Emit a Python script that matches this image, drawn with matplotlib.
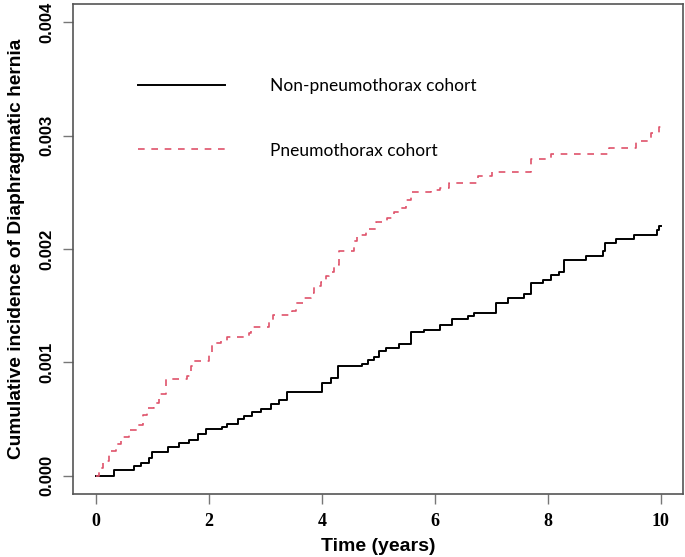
import numpy as np
import matplotlib.pyplot as plt

# step times (years) and cumulative incidence
non_t = [0, 0.32, 0.68, 0.80, 0.94, 1.00, 1.27, 1.47, 1.65, 1.80, 1.95, 2.24, 2.33,
         2.51, 2.62, 2.77, 2.92, 3.10, 3.24, 3.39, 4.01, 4.16, 4.28, 4.72, 4.81,
         4.93, 5.01, 5.13, 5.37, 5.58, 5.81, 6.10, 6.31, 6.58, 6.70, 7.08, 7.29,
         7.58, 7.70, 7.91, 8.05, 8.20, 8.29, 8.67, 8.97, 9.01, 9.20, 9.52, 9.93,
         9.97, 10.0]
non_v = [0, 0.00005, 0.000088, 0.000117, 0.00016, 0.00021, 0.000255, 0.00029,
         0.000314, 0.00037, 0.00041, 0.00043, 0.000455, 0.0005, 0.00053, 0.00056,
         0.00059, 0.00063, 0.00067, 0.00074, 0.00082, 0.00086, 0.00097, 0.00099,
         0.00102, 0.00105, 0.0011, 0.00113, 0.00116, 0.00127, 0.00129, 0.00133,
         0.00138, 0.00141, 0.00144, 0.00152, 0.00157, 0.0016, 0.0017, 0.00173,
         0.00177, 0.0018, 0.0019, 0.00194, 0.00198, 0.00205, 0.00209, 0.00212,
         0.00217, 0.0022, 0.0022]

pnx_t = [0, 0.06, 0.12, 0.24, 0.35, 0.44, 0.59, 0.74, 0.83, 0.91, 1.03, 1.12, 1.24,
         1.62, 1.68, 1.74, 2.00, 2.06, 2.21, 2.33, 2.71, 2.74, 3.07, 3.13, 3.48,
         3.54, 3.66, 3.81, 3.86, 3.98, 4.07, 4.13, 4.22, 4.30, 4.57, 4.63, 4.78,
         4.96, 5.16, 5.28, 5.40, 5.49, 5.58, 5.93, 6.10, 6.25, 6.76, 7.02, 7.70,
         8.05, 9.09, 9.56, 9.82, 9.97, 10.0]
pnx_v = [0, 0.00007, 0.00013, 0.00022, 0.00028, 0.00034, 0.0004, 0.00045, 0.00054,
         0.0006, 0.00064, 0.00072, 0.00085, 0.00088, 0.00097, 0.00101, 0.00108,
         0.00117, 0.00119, 0.00122, 0.00126, 0.00131, 0.00136, 0.00142, 0.00145,
         0.00152, 0.00157, 0.00161, 0.00167, 0.00171, 0.00176, 0.0018, 0.00186,
         0.00198, 0.00207, 0.00212, 0.00218, 0.00224, 0.00227, 0.00233, 0.00236,
         0.00243, 0.0025, 0.00252, 0.00254, 0.00258, 0.00264, 0.00268, 0.00279,
         0.00284, 0.00289, 0.00295, 0.00302, 0.00308, 0.00308]

labels = ["Non-pneumothorax cohort", "Pneumothorax cohort"]
x_ticks = [0, 2, 4, 6, 8, 10]
y_ticks = [0.000, 0.001, 0.002, 0.003, 0.004]

fig = plt.figure(figsize=(6.85, 5.57), dpi=100)
ax = fig.add_axes([0.107, 0.1131, 0.8905, 0.8797])

ax.step(non_t, non_v, where="post", color="black", lw=1.4, label=labels[0])
ax.step(pnx_t, pnx_v, where="post", color="#DF536B", lw=1.2,
        linestyle=(0, (4, 4)), label=labels[1])

ax.set_xlim(-0.4, 10.4)
ax.set_ylim(-0.00016, 0.00416)
ax.set_xticks(x_ticks)
ax.set_xticklabels([str(t) for t in x_ticks], fontfamily="Liberation Serif",
                   fontweight="bold", fontsize=13)
ax.set_yticks(y_ticks)
ax.set_yticklabels([f"{v:.3f}" for v in y_ticks], fontfamily="Liberation Sans",
                   fontweight="bold", fontsize=12, rotation=90, va="center")
ax.tick_params(length=7.2, width=1.0, color="#777777", pad=6.5)

for s in ax.spines.values():
    s.set_color("#555555")
    s.set_linewidth(1.2)

ax.set_xlabel("Time (years)", fontfamily="Liberation Sans", fontweight="bold",
              fontsize=14, labelpad=6)
ax.set_ylabel("Cumulative incidence of Diaphragmatic hernia",
              fontfamily="Liberation Sans", fontweight="bold", fontsize=13.8,
              labelpad=10)

leg = ax.legend(loc="upper left", bbox_to_anchor=(0.08, 0.88), frameon=False,
                prop={"family": "Lato", "size": 12.5}, handlelength=5.0,
                handletextpad=2.6, labelspacing=2.77)

fig.savefig("out.png", dpi=100)
